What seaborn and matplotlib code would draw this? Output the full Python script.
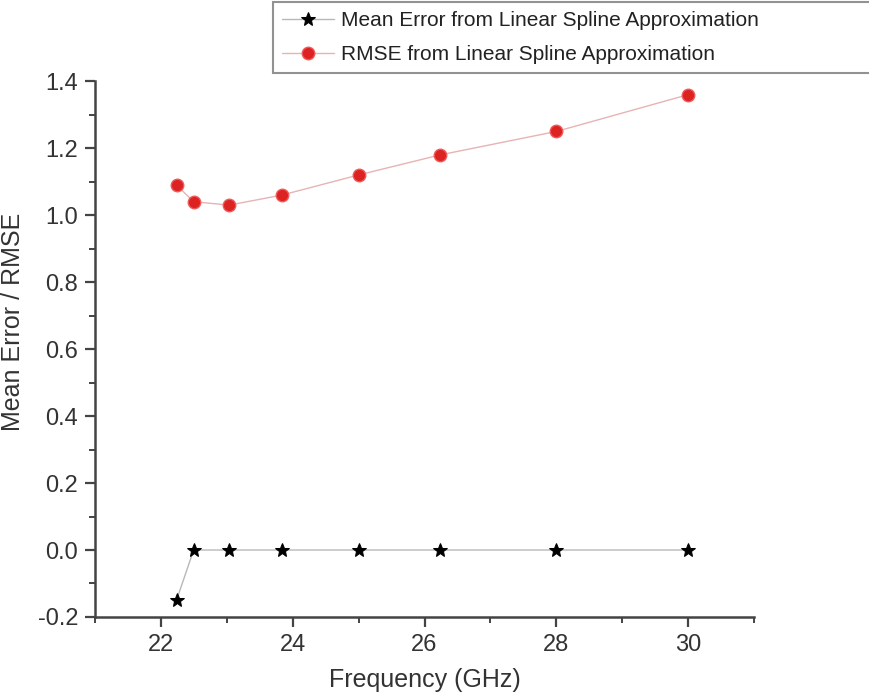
import pandas as pd
import matplotlib.pyplot as plt
import seaborn as sns
from matplotlib.ticker import MultipleLocator

# Values
freq = [22.24, 22.5, 23.04, 23.84, 25.0, 26.24, 28.0, 30.0]
mean_error = [-0.15, 0.0, 0.0, 0.0, 0.0, 0.0, 0.0, 0.0]
rmse = [1.09, 1.04, 1.03, 1.06, 1.12, 1.18, 1.25, 1.36]

df = pd.DataFrame({"Frequency": freq, "MeanError": mean_error, "RMSE": rmse})

sns.set_style("ticks")
plt.rcParams["font.family"] = ["Liberation Sans", "DejaVu Sans"]

fig = plt.figure(figsize=(8.69, 7), dpi=100)
ax = fig.add_axes([0.109, 0.1186, 0.759, 0.7654])

sns.lineplot(data=df, x="Frequency", y="MeanError", ax=ax, color="#b8b8b8",
             linewidth=1.0, marker="*", markersize=10, markerfacecolor="black",
             markeredgecolor="black", label="Mean Error from Linear Spline Approximation")
sns.lineplot(data=df, x="Frequency", y="RMSE", ax=ax, color="#e6b4b4",
             linewidth=1.0, marker="o", markersize=9, markerfacecolor="#dd2222",
             markeredgecolor="#ee5a5a", markeredgewidth=1.0,
             label="RMSE from Linear Spline Approximation")

ax.set_xlim(21, 31)
ax.set_ylim(-0.2, 1.4)
ax.xaxis.set_major_locator(MultipleLocator(2))
ax.xaxis.set_minor_locator(MultipleLocator(1))
ax.yaxis.set_major_locator(MultipleLocator(0.2))
ax.yaxis.set_minor_locator(MultipleLocator(0.1))
ax.yaxis.set_major_formatter(plt.FuncFormatter(lambda v, p: f"{v:.1f}"))

for side in ["top", "right"]:
    ax.spines[side].set_visible(False)
for side in ["left", "bottom"]:
    ax.spines[side].set_linewidth(1.8)
    ax.spines[side].set_color("#444444")

ax.tick_params(which="major", direction="out", length=7, width=1.6,
               color="#444444", labelsize=17, labelcolor="#333333", pad=5)
ax.tick_params(which="minor", direction="out", length=4, width=1.4, color="#444444")

ax.set_xlabel("Frequency (GHz)", fontsize=18, color="#333333", labelpad=9)
ax.set_ylabel("Mean Error / RMSE", fontsize=18, color="#333333")
ax.yaxis.set_label_coords(-0.106, 0.55)

ax.legend_.remove()
handles, labels = ax.get_legend_handles_labels()
leg = fig.legend(handles, labels, loc="upper left",
                 bbox_to_anchor=(0.314, 0.893, 0.7, 0.104), mode="expand",
                 fontsize=15, frameon=True, fancybox=False, handlelength=2.5,
                 borderaxespad=0, labelspacing=0.7, handletextpad=0.3,
                 borderpad=0.45)
leg.get_frame().set_edgecolor("#777777")
leg.get_frame().set_linewidth(1.5)
for t in leg.get_texts():
    t.set_color("#222222")

plt.savefig("out.png", dpi=100)
plt.close()
